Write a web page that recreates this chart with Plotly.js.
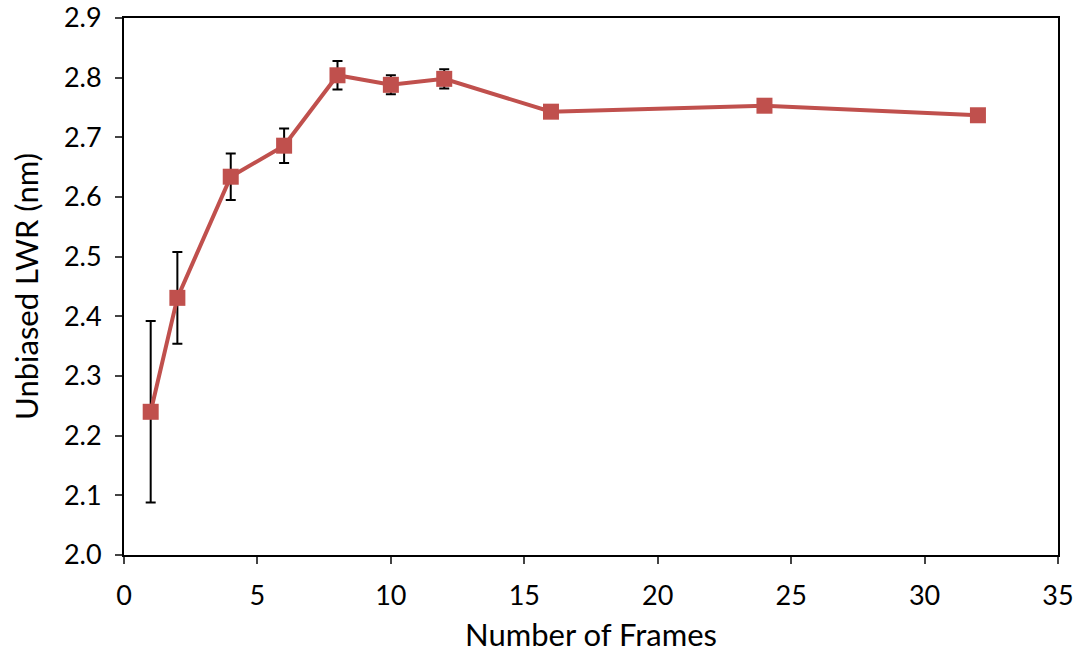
<!DOCTYPE html>
<html><head><meta charset="utf-8">
<script src="https://cdn.plot.ly/plotly-3.0.1.min.js"></script>
<style>html,body{margin:0;padding:0;background:#fff}#chart{width:1081px;height:656px}</style>
</head><body><div id="chart"></div>
<script>
const frames = [1, 2, 4, 6, 8, 10, 12, 16, 24, 32];
const lwr = [2.240, 2.431, 2.634, 2.686, 2.804, 2.788, 2.798, 2.743, 2.753, 2.737];
const errs = [0.152, 0.077, 0.039, 0.029, 0.024, 0.016, 0.016, 0.008, 0.008, 0.008];
const xTicks = [0, 5, 10, 15, 20, 25, 30, 35];
const yTicks = [2.0, 2.1, 2.2, 2.3, 2.4, 2.5, 2.6, 2.7, 2.8, 2.9];

const font = "Lato, 'Open Sans', sans-serif";
Plotly.newPlot('chart', [{
  x: frames, y: lwr, type: 'scatter', mode: 'lines+markers',
  line: {color: '#C0504D', width: 4},
  marker: {symbol: 'square', size: 16, color: '#C0504D'},
  error_y: {type: 'data', array: errs, visible: true, color: '#000', thickness: 2, width: 5},
  showlegend: false
}], {
  width: 1081, height: 656,
  margin: {l: 124, r: 23, t: 18, b: 101},
  paper_bgcolor: '#fff', plot_bgcolor: '#fff',
  font: {family: font, color: '#000'},
  xaxis: {range: [0, 35], tickvals: xTicks, ticktext: xTicks.map(String), ticks: 'outside', ticklen: 7, tickwidth: 1.5,
    showline: true, linecolor: '#000', linewidth: 2, mirror: true, showgrid: false, zeroline: false,
    ticklabelstandoff: 9, ticklabeloverflow: 'allow',
    tickfont: {size: 27}, title: {text: 'Number of Frames', font: {size: 31}, standoff: 14}},
  yaxis: {range: [2.0, 2.9], tickvals: yTicks, ticktext: yTicks.map(v => v.toFixed(1)), ticks: 'outside', ticklen: 7, tickwidth: 1.5,
    showline: true, linecolor: '#000', linewidth: 2, mirror: true, showgrid: false, zeroline: false,
    ticklabelstandoff: 8, ticklabeloverflow: 'allow',
    tickfont: {size: 27}, title: {text: 'Unbiased LWR (nm)', font: {size: 31}, standoff: 16}}
}, {displayModeBar: false});
</script></body></html>
